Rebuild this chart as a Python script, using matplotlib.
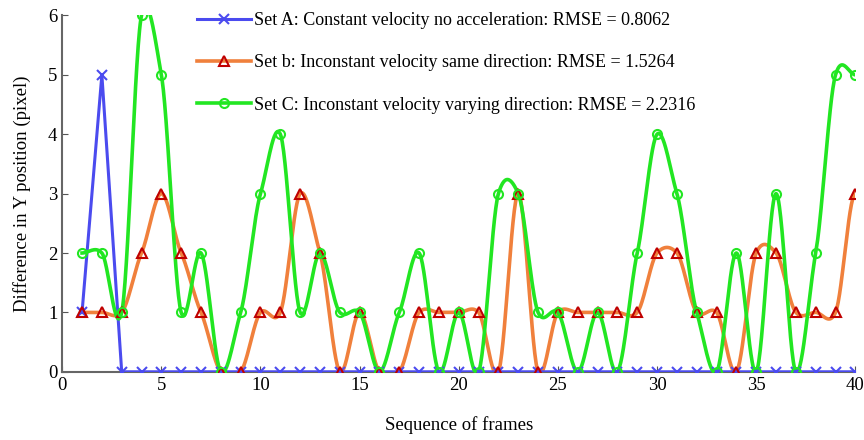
import numpy as np
import matplotlib
matplotlib.use("Agg")
import matplotlib.pyplot as plt
from matplotlib.lines import Line2D

plt.rcParams['font.family'] = ['Liberation Serif', 'DejaVu Serif']

frames = list(range(1, 41))
set_a = [1, 5, 0] + [0] * 37
set_b = [1, 1, 1, 2, 3, 2, 1, 0, 0, 1, 1, 3, 2, 0, 1, 0, 0, 1, 1, 1,
         1, 0, 3, 0, 1, 1, 1, 1, 1, 2, 2, 1, 1, 0, 2, 2, 1, 1, 1, 3]
set_c = [2, 2, 1, 6, 5, 1, 2, 0, 1, 3, 4, 1, 2, 1, 1, 0, 1, 2, 0, 1,
         0, 3, 3, 1, 1, 0, 1, 0, 2, 4, 3, 1, 0, 2, 0, 3, 0, 2, 5, 5]

labels = ["Set A: Constant velocity no acceleration: RMSE = 0.8062",
          "Set b: Inconstant velocity same direction: RMSE = 1.5264",
          "Set C: Inconstant velocity varying direction: RMSE = 2.2316"]


def smooth(x, y, s=0.75, n=30):
    x = np.asarray(x, float)
    y = np.asarray(y, float)
    m = np.zeros_like(y)
    m[1:-1] = s * (y[2:] - y[:-2]) / (x[2:] - x[:-2])
    xs, ys = [], []
    for i in range(len(x) - 1):
        h = x[i + 1] - x[i]
        t = np.linspace(0, 1, n, endpoint=False)
        h00 = 2 * t**3 - 3 * t**2 + 1
        h10 = t**3 - 2 * t**2 + t
        h01 = -2 * t**3 + 3 * t**2
        h11 = t**3 - t**2
        xs.append(x[i] + t * h)
        ys.append(h00 * y[i] + h10 * h * m[i] + h01 * y[i + 1] + h11 * h * m[i + 1])
    xs.append([x[-1]])
    ys.append([y[-1]])
    return np.concatenate(xs), np.concatenate(ys)


fig = plt.figure(figsize=(8.64, 4.4), dpi=100)
ax = fig.add_axes([0.072, 0.155, 0.918, 0.81])

blue = '#4b4bef'
orange = '#f0803c'
green = '#22e622'
red = '#c00000'
ms = 6.5

ax.plot(frames, set_a, color=blue, lw=2.2, zorder=3)
ax.plot(frames, set_a, ls='none', marker='x', ms=ms, mew=1.5, color=blue, zorder=4)

xb, yb = smooth(frames, set_b)
ax.plot(xb, yb, color=orange, lw=2.6, zorder=2)
ax.plot(frames, set_b, ls='none', marker='^', ms=ms, mfc='none', mec=red, mew=1.5, zorder=4)

xc, yc = smooth(frames, set_c)
ax.plot(xc, yc, color=green, lw=2.6, zorder=3)
ax.plot(frames, set_c, ls='none', marker='o', ms=ms, mfc='none', mec=green, mew=1.5, zorder=4)

handles = [
    Line2D([], [], color=blue, lw=2.2, marker='x', ms=ms, mew=1.5),
    Line2D([], [], color=orange, lw=2.6, marker='^', ms=ms, mfc='none', mec=red, mew=1.5),
    Line2D([], [], color=green, lw=2.6, marker='o', ms=ms, mfc='none', mec=green, mew=1.5),
]
ax.legend(handles, labels, loc='upper left', bbox_to_anchor=(0.149, 1.055), frameon=False,
          fontsize=13, handlelength=3.0, handletextpad=0.2, labelspacing=1.4)

ax.set_xlim(0, 40)
ax.set_ylim(0, 6)
ax.set_xticks(range(0, 41, 5))
ax.set_yticks(range(0, 7))
ax.tick_params(direction='in', labelsize=13.5, length=4, colors='#555555', labelcolor='black')
for s in ['top', 'right']:
    ax.spines[s].set_visible(False)
for s in ['left', 'bottom']:
    ax.spines[s].set_color('#666666')
    ax.spines[s].set_linewidth(1.5)
ax.set_xlabel('Sequence of frames', fontsize=13.5, labelpad=16)
ax.set_ylabel('Difference in Y position (pixel)', fontsize=13.5, labelpad=12)

fig.savefig('out.png', dpi=100)
